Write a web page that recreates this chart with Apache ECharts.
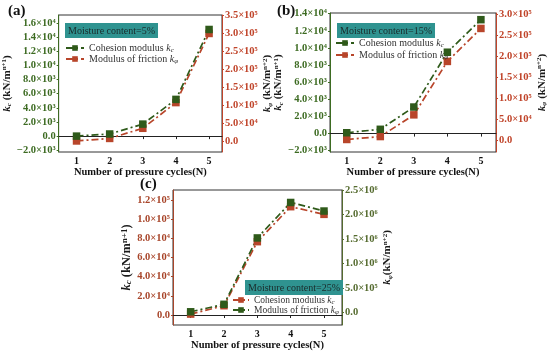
<!DOCTYPE html>
<html><head><meta charset="utf-8">
<script src="https://cdn.jsdelivr.net/npm/echarts@6/dist/echarts.min.js"></script>
<style>html,body{margin:0;padding:0;background:#fff}#c{width:550px;height:353px}</style>
</head><body><div id="c"></div>
<script>
// ---- data ----
var cycles = [1, 2, 3, 4, 5];
var kcA = [0, 300, 1700, 5200, 15100];
var kphiA = [2000, 9000, 37000, 108000, 299000];
var kcB = [100, 500, 3100, 9500, 13300];
var kphiB = [1000, 8000, 60000, 188000, 267000];
var kcC = [1000, 9700, 76500, 113000, 105000];
var kphiC = [10000, 163000, 1520000, 2245000, 2070000];
var moisture = ['Moisture content=5%', 'Moisture content=15%', 'Moisture content=25%'];
var ticksA_left = [-2000, 0, 2000, 4000, 6000, 8000, 10000, 12000, 14000, 16000];
var ticksA_right = [0, 50000, 100000, 150000, 200000, 250000, 300000, 350000];
var ticksB_left = [-2000, 0, 2000, 4000, 6000, 8000, 10000, 12000, 14000];
var ticksB_right = [0, 50000, 100000, 150000, 200000, 250000, 300000];
var ticksC_left = [0, 20000, 40000, 60000, 80000, 100000, 120000];
var ticksC_right = [0, 500000, 1000000, 1500000, 2000000, 2500000];

var SERIF = 'Liberation Serif';
var GREEN = '#2f5a1a', RED = '#b8452a';
var GREEN_T = '#3d6b22', RED_T = '#c0442a', BROWN_T = '#a8452a', OLIVE_T = '#556b2f';
var sup = {'0':'⁰','1':'¹','2':'²','3':'³','4':'⁴','5':'⁵','6':'⁶','7':'⁷','8':'⁸','9':'⁹'};
function fmt(v) {
  if (v === 0) return '0.0';
  var s = v < 0 ? '−' : '';
  var a = Math.abs(v);
  var e = Math.floor(Math.log10(a) + 1e-9);
  var m = a / Math.pow(10, e);
  return s + m.toFixed(1) + '×10' + String(e).split('').map(function (d) { return sup[d]; }).join('');
}
function pairs(arr) { return cycles.map(function (c, i) { return [c, arr[i]]; }); }

function nameRich(fs) {
  var ss = Math.round(fs * 0.68);
  return {
    k: {fontFamily: SERIF, fontStyle: 'italic', fontWeight: 'bold', fontSize: fs, color: '#1a1a1a', lineHeight: fs + 1},
    s: {fontFamily: SERIF, fontStyle: 'italic', fontWeight: 'bold', fontSize: ss, color: '#1a1a1a', lineHeight: ss, verticalAlign: 'bottom'},
    t: {fontFamily: SERIF, fontWeight: 'bold', fontSize: fs, color: '#1a1a1a', lineHeight: fs + 1},
    p: {fontFamily: SERIF, fontWeight: 'bold', fontSize: ss, color: '#1a1a1a', lineHeight: ss, verticalAlign: 'top'}
  };
}
var kcName = '{k|k}{s|c}{t| (kN/m}{p|n+1}{t|)}';
var kpName = '{k|k}{s|φ}{t| (kN/m}{p|n+2}{t|)}';
var kpName2 = '{k|k}{s|φ}{t|(kN/m}{p|n+2}{t|)}';

var grids = [
  {left: 58, top: 15, width: 164, height: 137},
  {left: 330, top: 13, width: 166, height: 139},
  {left: 173, top: 190, width: 169, height: 135}
];

function xAx(gi, min, max) {
  return {
    type: 'value', gridIndex: gi, min: min, max: max,
    name: 'Number of pressure cycles(N)', nameLocation: 'middle', nameGap: 15,
    nameTextStyle: {fontFamily: SERIF, fontWeight: 'bold', fontSize: 10.5, color: '#111'},
    axisLine: {lineStyle: {color: '#222', width: 1}},
    axisTick: {customValues: cycles, length: 3, lineStyle: {color: '#222'}},
    axisLabel: {customValues: cycles, fontFamily: SERIF, fontWeight: 'bold', fontSize: 10, color: '#111', margin: 4},
    splitLine: {show: false}
  };
}
function yAx(gi, pos, min, max, ticks, col, name, gap, fs) {
  return {
    type: 'value', gridIndex: gi, position: pos, min: min, max: max,
    name: name, nameLocation: 'middle', nameGap: gap, nameRotate: 90,
    nameTextStyle: {rich: nameRich(fs)},
    axisLine: {show: true, lineStyle: {color: col, width: 1}},
    axisTick: {show: true, customValues: ticks, length: 2, lineStyle: {color: col}},
    axisLabel: {customValues: ticks, formatter: fmt, fontFamily: SERIF, fontWeight: 'bold', fontSize: 10.5, color: col, margin: 3},
    splitLine: {show: false}
  };
}

function ser(name, xi, yi, arr, col) {
  return {
    name: name, type: 'line', xAxisIndex: xi, yAxisIndex: yi, data: pairs(arr),
    symbol: 'rect', symbolSize: 7.5,
    itemStyle: {color: col},
    lineStyle: {color: col, width: 1.7, type: [7, 3, 2, 3]}
  };
}

function legRich(fs) {
  return {
    t: {fontFamily: SERIF, fontSize: fs, color: '#333', lineHeight: 12},
    k: {fontFamily: SERIF, fontStyle: 'italic', fontSize: fs, color: '#333', lineHeight: 12},
    s: {fontFamily: SERIF, fontStyle: 'italic', fontSize: 7, color: '#333', lineHeight: 7, verticalAlign: 'bottom'}
  };
}
function legFmt(n) {
  if (n.indexOf('kc') >= 0) return '{t|Cohesion modulus }{k|k}{s|c}';
  return '{t|Modulus of friction }{k|k}{s|φ}';
}
function leg(left, top, gap, iw, fs, names) {
  return {
    left: left, top: top, orient: 'vertical', itemGap: gap, itemWidth: iw, itemHeight: 7,
    data: names, formatter: legFmt, textStyle: {rich: legRich(fs)}, selectedMode: false, padding: 0
  };
}
function box(left, top, text) {
  return {
    text: text, left: left, top: top, padding: [2, 3, 1, 3],
    backgroundColor: '#2f9390',
    textStyle: {fontFamily: SERIF, fontWeight: 'normal', fontSize: 10, color: '#1a2a2a', lineHeight: 12}
  };
}
function lab(left, top, t) {
  return {text: t, left: left, top: top, padding: 0, textStyle: {fontFamily: SERIF, fontWeight: 'bold', fontSize: 15, color: '#111'}};
}

var option = {
  animation: false,
  backgroundColor: '#fff',
  grid: grids.map(function (g) { return Object.assign({show: true, borderColor: '#333', borderWidth: 1, backgroundColor: 'transparent'}, g); }),
  title: [
    lab(8, 4, '(a)'), lab(277, 4, '(b)'), lab(140, 177, '(c)'),
    box(65, 23, moisture[0]), box(337, 23, moisture[1]), box(245, 280, moisture[2])
  ],
  legend: [
    leg(65, 43, 0, 18, 10, ['a kc', 'a kphi']),
    leg(335, 38, 1, 18, 10, ['b kc', 'b kphi']),
    leg(232, 295, -1, 16, 9.5, ['c kc', 'c kphi'])
  ],
  xAxis: [xAx(0, 0.46, 5.39), xAx(1, 0.5, 5.45), xAx(2, 0.47, 5.54)],
  yAxis: [
    yAx(0, 'left', -2250, 17150, ticksA_left, GREEN_T, kcName, 41, 11),
    yAx(0, 'right', -28500, 350000, ticksA_right, RED_T, kpName, 38, 11),
    yAx(1, 'left', -2150, 14080, ticksB_left, GREEN_T, kcName, 42, 11),
    yAx(1, 'right', -29000, 304000, ticksB_right, RED_T, kpName, 40, 11),
    yAx(2, 'left', -10400, 130400, ticksC_left, BROWN_T, kcName, 37, 12.5),
    yAx(2, 'right', -260000, 2500000, ticksC_right, OLIVE_T, kpName2, 38, 11)
  ],
  series: [
    ser('a kphi', 0, 1, kphiA, RED),
    ser('a kc', 0, 0, kcA, GREEN),
    ser('b kphi', 1, 3, kphiB, RED),
    ser('b kc', 1, 2, kcB, GREEN),
    ser('c kc', 2, 4, kcC, RED),
    ser('c kphi', 2, 5, kphiC, GREEN)
  ]
};
var chart = echarts.init(document.getElementById('c'), null, {renderer: 'canvas'});
chart.setOption(option);
</script></body></html>
